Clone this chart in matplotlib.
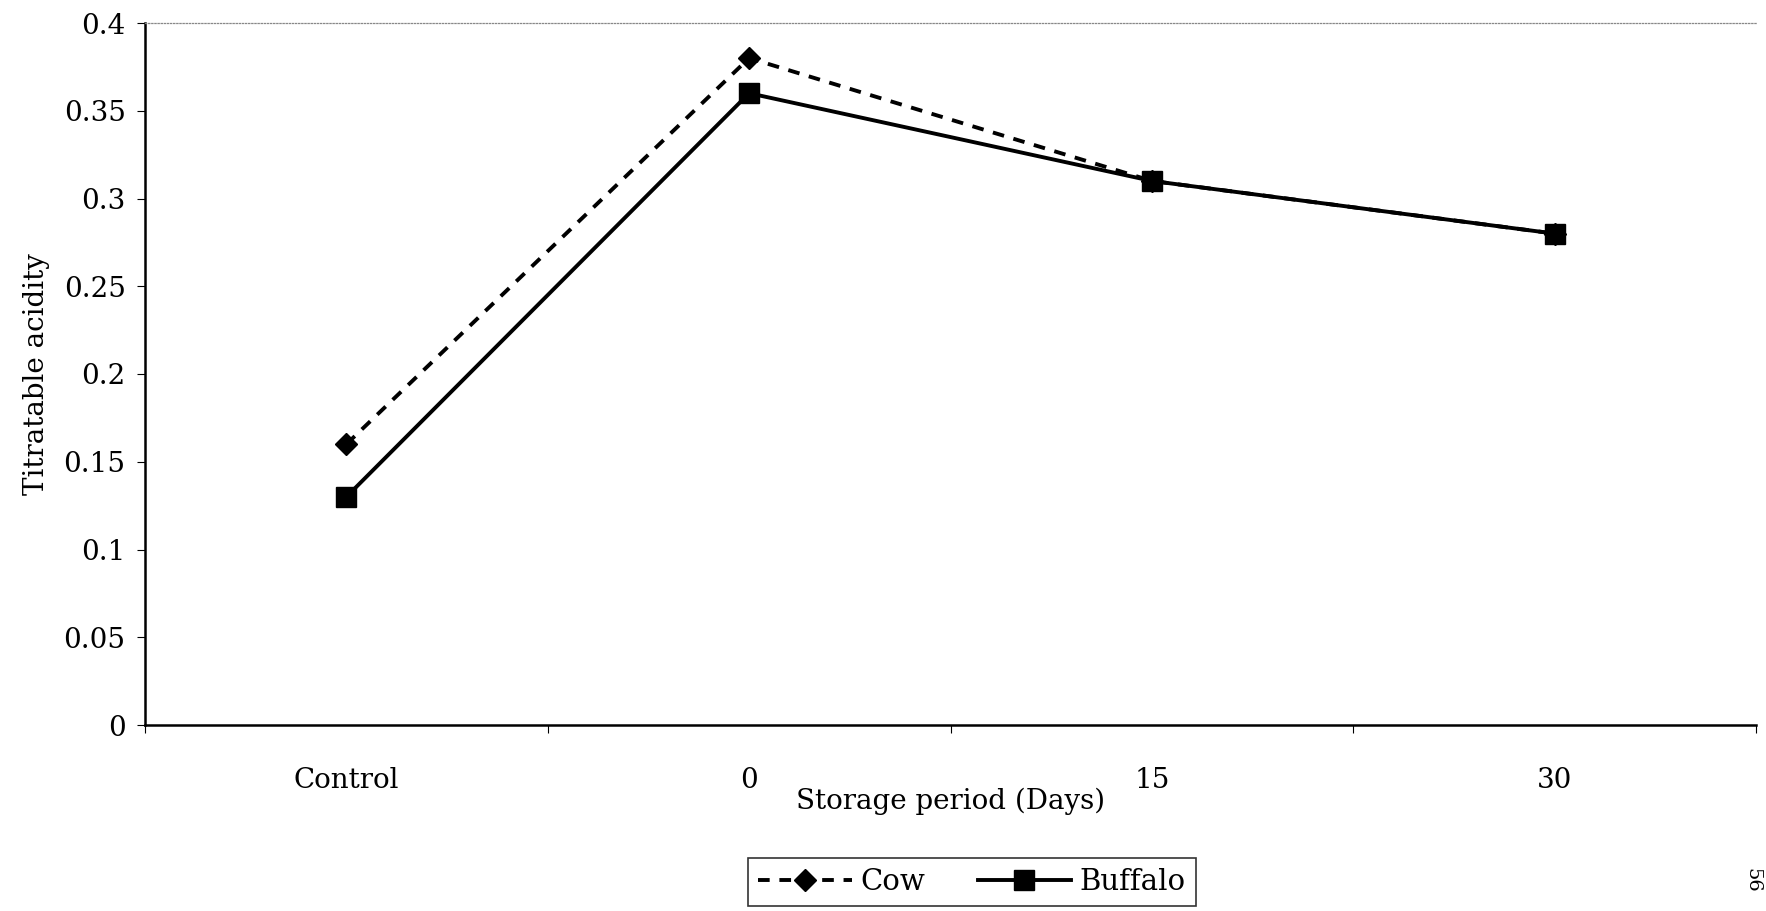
import numpy as np
import matplotlib
matplotlib.use('Agg')
import matplotlib.pyplot as plt

categories = ['Control', '0', '15', '30']
cow = [0.16, 0.38, 0.31, 0.28]
buffalo = [0.13, 0.36, 0.31, 0.28]
yticks = [0, 0.05, 0.1, 0.15, 0.2, 0.25, 0.3, 0.35, 0.4]

plt.rcParams['font.family'] = ['DejaVu Serif']

fig = plt.figure(figsize=(17.66, 9.11), dpi=100)
ax = fig.add_axes([145/1766, 1-725/911, (1756-145)/1766, (725-23)/911])

x = np.arange(len(categories))
ax.plot(x, cow, color='black', ls=(0, (3, 2.5)), lw=2.8, marker='D', ms=11,
        label='Cow')
ax.plot(x, buffalo, color='black', ls='-', lw=2.8, marker='s', ms=15,
        label='Buffalo')

ax.set_xlim(-0.5, 3.5)
ax.set_ylim(0, 0.4)
ax.set_yticks(yticks)
ax.set_yticklabels(['0', '0.05', '0.1', '0.15', '0.2', '0.25', '0.3', '0.35', '0.4'])
ax.set_xticks(np.arange(-0.5, 4.0, 1.0))
ax.set_xticklabels([])
ax.set_xticks(x, minor=True)
ax.set_xticklabels(categories, minor=True)
ax.tick_params(axis='x', which='minor', length=0, pad=30, labelsize=20)
ax.tick_params(axis='x', which='major', length=6, direction='out')
ax.tick_params(axis='y', length=6, labelsize=20, pad=8)

ax.spines['right'].set_visible(False)
ax.spines['top'].set_color('#888888')
ax.spines['top'].set_linestyle((0, (1, 1.5)))
ax.spines['top'].set_linewidth(0.9)
ax.spines['left'].set_linewidth(1.8)
ax.spines['bottom'].set_linewidth(1.8)

ax.set_ylabel('Titratable acidity', fontsize=20, labelpad=10)
ax.set_xlabel('Storage period (Days)', fontsize=20, labelpad=-4)

leg = fig.legend(loc='center', bbox_to_anchor=(972/1766, 1-882/911), ncol=2,
                 frameon=True, fancybox=False, edgecolor='black', fontsize=21,
                 handlelength=3.2, columnspacing=1.8, handletextpad=0.3,
                 borderpad=0.35)
leg.get_frame().set_linewidth(1.2)

fig.text(1752/1766, 1-880/911, '56', rotation=-90, fontsize=14,
         ha='center', va='center')

fig.savefig('out.png', dpi=100)
